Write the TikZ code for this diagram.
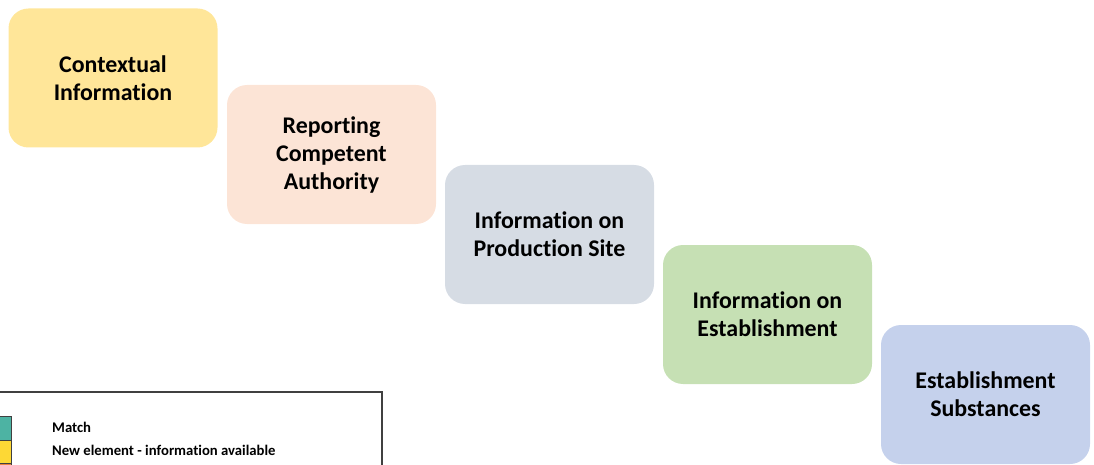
\documentclass[tikz,border=0pt]{standalone}
\usepackage{fontspec}
\setmainfont[Ligatures=NoCommon]{Carlito}
\definecolor{c1}{HTML}{FFE699}
\definecolor{c2}{HTML}{FCE4D6}
\definecolor{c3}{HTML}{D6DCE4}
\definecolor{c4}{HTML}{C6E0B4}
\definecolor{c5}{HTML}{C5D1EC}
\definecolor{teal}{HTML}{4DB3A3}
\definecolor{gold}{HTML}{FDD835}
\definecolor{orng}{HTML}{E9823F}
\definecolor{legline}{HTML}{404040}
\tikzset{
  stage/.style={rectangle, rounded corners=20pt, minimum width=209pt, minimum height=139pt,
    align=center, inner sep=0pt, font=\fontsize{23.9}{28}\selectfont\bfseries, text=black},
  legtext/.style={anchor=west, inner sep=0pt, font=\fontsize{14.7}{16}\selectfont\bfseries},
  swatch/.style={draw=black!75, line width=0.8pt}
}
\begin{document}
\begin{tikzpicture}[x=1pt,y=-1pt]
\useasboundingbox (0,0) rectangle (1094,465);
\begin{scope}
\clip (0,0) rectangle (1094,465);
\node[stage, fill=c1] (s1) at (113,78) {Contextual\\Information};
\node[stage, fill=c2] (s2) at (331.5,154.5) {Reporting\\Competent\\Authority};
\node[stage, fill=c3] (s3) at (549.5,234.5) {Information on\\Production Site};
\node[stage, fill=c4] (s4) at (767.5,314.5) {Information on\\Establishment};
\node[stage, fill=c5] (s5) at (985.5,394.5) {Establishment\\Substances};
% legend
\draw[legline, line width=1.6pt] (-5,392) -- (382,392) -- (382,475);
\draw[swatch, fill=teal] (-5,416) rectangle (11,440);
\draw[swatch, fill=gold] (-5,440) rectangle (11,463);
\draw[swatch, fill=orng] (-5,463) rectangle (11,480);
\node[legtext] (l1) at (52,427) {Match};
\node[legtext] (l2) at (52,450) {New element - information available};
\end{scope}
\end{tikzpicture}
\end{document}
